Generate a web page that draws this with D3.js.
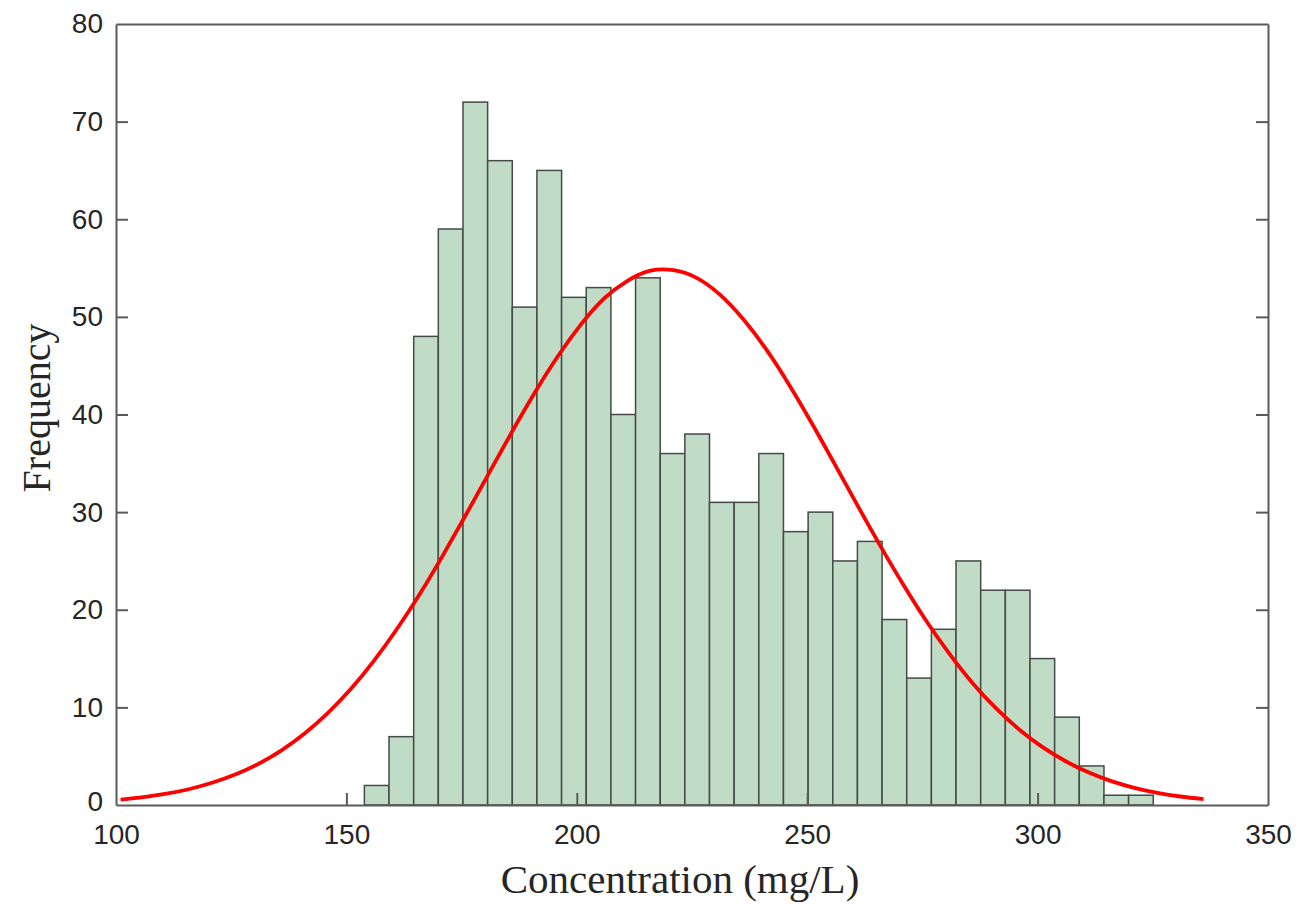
<!DOCTYPE html>
<html>
<head>
<meta charset="utf-8">
<script src="https://cdn.jsdelivr.net/npm/d3@7"></script>
<style>
  html, body { margin: 0; padding: 0; background: #ffffff; }
  svg { display: block; }
</style>
</head>
<body>
<div id="chart"></div>
<script>
// ---- Data ----
const binEdges = [153.90, 159.25, 164.60, 169.95, 175.30, 180.65, 186.00, 191.35, 196.70,
  202.05, 207.40, 212.75, 218.10, 223.45, 228.80, 234.15, 239.50, 244.85, 250.20, 255.55,
  260.90, 266.25, 271.60, 276.95, 282.30, 287.65, 293.00, 298.35, 303.70, 309.05, 314.40,
  319.75, 325.10];
const counts = [2, 7, 48, 59, 72, 66, 51, 65, 52, 53, 40, 54, 36, 38, 31, 31, 36, 28, 30,
  25, 27, 19, 13, 18, 25, 22, 22, 15, 9, 4, 1, 1];
// fitted normal curve
const curveX = [101, 106, 111, 116, 121, 126, 131, 136, 141, 146, 151, 156, 161, 166, 171, 176,
  181, 186, 191, 196, 201, 206, 211, 216, 221, 226, 231, 236, 241, 246, 251, 256, 261, 266,
  271, 276, 281, 286, 291, 296, 301, 306, 311, 316, 321, 326, 331, 336];
const curveY = [0.55, 0.81, 1.16, 1.64, 2.30, 3.15, 4.24, 5.63, 7.35, 9.44, 11.90, 14.78,
  18.05, 21.66, 25.62, 29.78, 34.04, 38.28, 42.33, 46.04, 49.28, 51.91, 53.70, 54.74, 54.78,
  54.00, 52.30, 49.83, 46.74, 43.11, 39.11, 34.89, 30.62, 26.44, 22.45, 18.74, 15.40, 12.42,
  9.89, 7.74, 5.95, 4.51, 3.35, 2.45, 1.76, 1.24, 0.87, 0.60];
const xTicks = [100, 150, 200, 250, 300, 350];
const yTicks = [0, 10, 20, 30, 40, 50, 60, 70, 80];
const xTitle = "Concentration (mg/L)";
const yTitle = "Frequency";

// ---- Layout ----
const W = 1308, H = 907;
const L = 116, R = 1268, T = 24, B = 805;

const svg = d3.select("#chart").append("svg")
  .attr("width", W).attr("height", H)
  .style("background", "#ffffff");

const x = d3.scaleLinear().domain([100, 350]).range([L, R]);
const y = d3.scaleLinear().domain([0, 80]).range([B, T]);

// bars
const bins = counts.map((c, i) => ({ x0: binEdges[i], x1: binEdges[i + 1], c }));
svg.append("g").selectAll("rect").data(bins).enter().append("rect")
  .attr("x", d => x(d.x0))
  .attr("y", d => y(d.c))
  .attr("width", d => x(d.x1) - x(d.x0))
  .attr("height", d => y(0) - y(d.c))
  .attr("fill", "#c1dcc6")
  .attr("stroke", "#444a45")
  .attr("stroke-width", 1.5);

// curve
const pts = curveX.map((v, i) => [v, curveY[i]]);
svg.append("path")
  .datum(pts)
  .attr("fill", "none")
  .attr("stroke", "#ff0000")
  .attr("stroke-width", 3.8)
  .attr("stroke-linecap", "butt")
  .attr("d", d3.line().x(d => x(d[0])).y(d => y(d[1])).curve(d3.curveNatural));

// axes (ticks inward)
const axisColor = "#5a5a5a";
const fontTick = "'Liberation Sans', Arial, sans-serif";

const gx = svg.append("g").attr("transform", `translate(0,${B})`)
  .call(d3.axisBottom(x).tickValues(xTicks).tickSizeInner(-12).tickSizeOuter(0).tickPadding(19));
const gy = svg.append("g").attr("transform", `translate(${L},0)`)
  .call(d3.axisLeft(y).tickValues(yTicks).tickSizeInner(-12).tickSizeOuter(0).tickPadding(13));
const gr = svg.append("g").attr("transform", `translate(${R},0)`)
  .call(d3.axisRight(y).tickValues(yTicks).tickSizeInner(-12).tickSizeOuter(0).tickFormat(""));
const gt = svg.append("g").attr("transform", `translate(0,${T})`)
  .call(d3.axisTop(x).tickValues([]).tickSizeOuter(0));

[gx, gy, gr, gt].forEach(g => {
  g.selectAll("path.domain").attr("stroke", axisColor).attr("stroke-width", 2);
  g.selectAll(".tick line").attr("stroke", axisColor).attr("stroke-width", 2);
  g.selectAll(".tick text").attr("fill", "#262626")
    .style("font-family", fontTick).style("font-size", "28px");
});
// hide end ticks that coincide with the box
gx.selectAll(".tick").filter(d => d === 100 || d === 350).select("line").remove();
gy.selectAll(".tick").filter(d => d === 0 || d === 80).select("line").remove();
gr.selectAll(".tick").filter(d => d === 0 || d === 80).select("line").remove();
gx.selectAll(".tick text").attr("dy", "0.71em");
gy.selectAll(".tick").filter(d => d === 0).select("text").attr("dy", "0.2em");

// axis titles
svg.append("text")
  .attr("x", 680).attr("y", 893)
  .attr("text-anchor", "middle")
  .attr("fill", "#262626")
  .style("font-family", "'Liberation Serif', 'Times New Roman', serif")
  .style("font-size", "41px")
  .text(xTitle);

svg.append("text")
  .attr("transform", "translate(50,408) rotate(-90)")
  .attr("text-anchor", "middle")
  .attr("fill", "#262626")
  .style("font-family", "'Liberation Serif', 'Times New Roman', serif")
  .style("font-size", "40px")
  .text(yTitle);
</script>
</body>
</html>
